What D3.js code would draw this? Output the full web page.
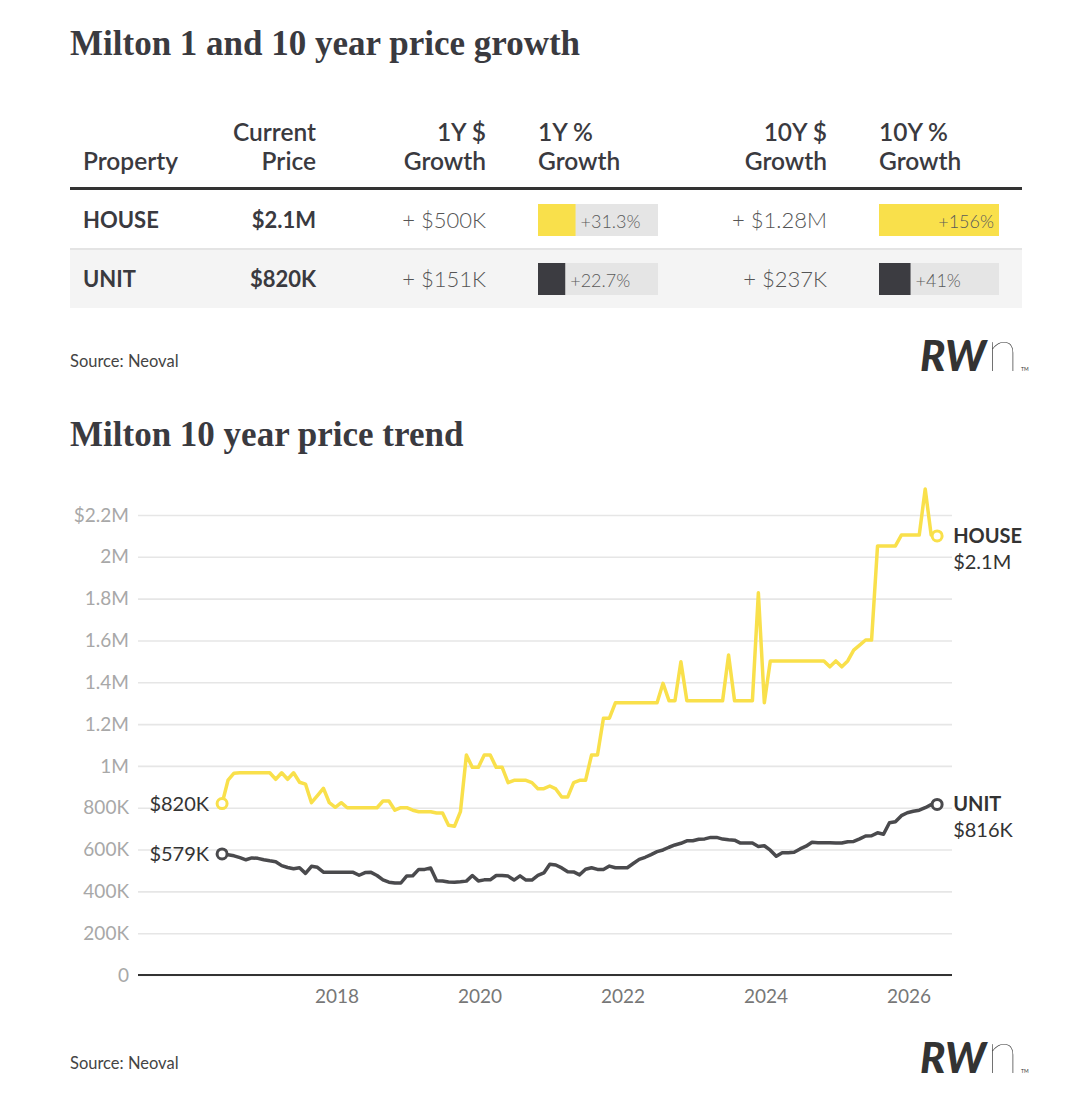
<!DOCTYPE html>
<html>
<head>
<meta charset="utf-8">
<script src="https://cdn.jsdelivr.net/npm/d3@7"></script>
<style>
  body { margin: 0; background: #fff; }
  svg { display: block; font-family: Lato, "Noto Sans", sans-serif; }
</style>
</head>
<body>
<svg></svg>
<script>
const width = 1074;
const height = 1116;

// table data
const properties = ["HOUSE", "UNIT"];
const currentPrice = ["$2.1M", "$820K"];
const growth1yDollar = ["+ $500K", "+ $151K"];
const growth1yPct = [31.3, 22.7];
const growth10yDollar = ["+ $1.28M", "+ $237K"];
const growth10yPct = [156, 41];
const headers = [["", "Property"], ["Current", "Price"], ["1Y $", "Growth"], ["1Y %", "Growth"], ["10Y $", "Growth"], ["10Y %", "Growth"]];

// trend data, monthly, in $K
const startYear = 2016.4;
const houseValues = [
  820, 932, 965, 967, 967, 967, 967, 967, 967, 936, 967, 936,
  967, 922, 913, 824, 858, 893, 824, 802, 824, 800, 800, 800,
  800, 800, 800, 832, 832, 788, 800, 800, 788, 781, 781, 781,
  775, 775, 716, 711, 781, 1052, 993, 993, 1052, 1052, 993, 993,
  920, 931, 931, 931, 920, 891, 891, 904, 890, 851, 851, 920,
  931, 931, 1052, 1052, 1228, 1228, 1302, 1302, 1302, 1302, 1302, 1302,
  1302, 1302, 1395, 1312, 1312, 1498, 1312, 1312, 1312, 1312, 1312, 1312,
  1312, 1530, 1312, 1312, 1312, 1312, 1828, 1302, 1502, 1502, 1502, 1502,
  1502, 1502, 1502, 1502, 1502, 1502, 1474, 1502, 1474, 1502, 1554, 1578,
  1602, 1602, 2052, 2052, 2052, 2052, 2104, 2104, 2104, 2104, 2324, 2104,
  2100
];
const unitValues = [
  579, 575, 570, 561, 551, 560, 558, 551, 546, 542, 523, 514,
  508, 513, 486, 520, 515, 492, 491, 491, 491, 491, 491, 477,
  490, 491, 476, 455, 444, 440, 440, 474, 475, 505, 505, 512,
  451, 450, 445, 444, 446, 449, 476, 450, 455, 455, 476, 476,
  473, 454, 474, 454, 454, 476, 488, 530, 526, 512, 494, 493,
  479, 506, 513, 505, 505, 521, 513, 513, 513, 533, 553, 563,
  576, 590, 598, 611, 622, 630, 642, 642, 649, 651, 658, 658,
  650, 647, 645, 631, 631, 631, 615, 618, 597, 568, 585, 585,
  587, 603, 616, 635, 633, 633, 632, 631, 631, 637, 639, 651,
  665, 666, 680, 673, 728, 733, 762, 776, 783, 788, 800, 815,
  816
];
const yTicks = [0, 200, 400, 600, 800, 1000, 1200, 1400, 1600, 1800, 2000, 2200];
const yTickLabels = ["0", "200K", "400K", "600K", "800K", "1M", "1.2M", "1.4M", "1.6M", "1.8M", "2M", "$2.2M"];
const xTicks = [2018, 2020, 2022, 2024, 2026];

const ink = "#3a3a3f";
const yellow = "#f9e04b";
const dark = "#3c3c41";
const unitLine = "#4a4a4d";

const svg = d3.select("svg")
  .attr("width", width)
  .attr("height", height);

function title(text, y) {
  svg.append("text")
    .attr("x", 70)
    .attr("y", y)
    .attr("font-family", "'Liberation Serif', 'DejaVu Serif', serif")
    .attr("font-weight", 700)
    .attr("font-size", 35)
    .attr("fill", ink)
    .text(text);
}

function source(y) {
  svg.append("text")
    .attr("x", 70)
    .attr("y", y)
    .attr("font-size", 16.5)
    .attr("fill", "#444")
    .text("Source: Neoval");
}

function logo(y) {
  const t = svg.append("text").attr("x", 920).attr("y", y).attr("fill", "#333");
  t.append("tspan")
    .attr("font-size", 42)
    .attr("font-weight", 900)
    .attr("font-style", "italic")
    .text("RW");
  t.append("tspan")
    .attr("dx", 1)
    .attr("font-size", 58)
    .attr("font-weight", 100)
    .text("n");
  svg.append("text")
    .attr("x", 1021)
    .attr("y", y)
    .attr("font-size", 5)
    .attr("fill", "#333")
    .text("TM");
}

// ---------- table ----------
title("Milton 1 and 10 year price growth", 55);

const colX = [83, 316, 486, 538, 827, 879];
const colAnchor = ["start", "end", "end", "start", "end", "start"];

const head = svg.append("g").attr("class", "header");
headers.forEach(function(lines, c) {
  lines.forEach(function(line, k) {
    head.append("text")
      .attr("x", colX[c])
      .attr("y", 141 + k * 28.5)
      .attr("text-anchor", colAnchor[c])
      .attr("font-size", 24.5)
      .attr("font-weight", 600)
      .attr("fill", ink)
      .text(line);
  });
});

svg.append("line")
  .attr("x1", 70).attr("x2", 1022)
  .attr("y1", 188.5).attr("y2", 188.5)
  .attr("stroke", "#333")
  .attr("stroke-width", 3);

const rowTop = d3.scaleBand().domain(properties).range([190, 308]);
const bar1 = d3.scaleLinear().domain([0, 100]).range([0, 120]);
const bar10 = d3.scaleLinear().domain([0, d3.max(growth10yPct)]).range([0, 120]);

const rows = svg.append("g").selectAll("g")
  .data(properties)
  .enter()
  .append("g")
  .attr("transform", d => `translate(0,${rowTop(d)})`);

rows.append("rect")
  .attr("x", 70).attr("width", 952)
  .attr("height", rowTop.bandwidth())
  .attr("fill", (d, i) => i === 1 ? "#f4f4f4" : "#fff");

rows.filter((d, i) => i === 1).append("line")
  .attr("x1", 70).attr("x2", 1022)
  .attr("stroke", "#e4e4e4")
  .attr("stroke-width", 2);

rows.append("text")
  .attr("x", colX[0]).attr("y", 38)
  .attr("font-size", 22).attr("font-weight", 700).attr("fill", ink)
  .text(d => d);

rows.append("text")
  .attr("x", colX[1]).attr("y", 38).attr("text-anchor", "end")
  .attr("font-size", 22).attr("font-weight", 700).attr("fill", ink)
  .text((d, i) => currentPrice[i]);

[[colX[2], growth1yDollar], [colX[4], growth10yDollar]].forEach(function(col) {
  rows.append("text")
    .attr("x", col[0]).attr("y", 38).attr("text-anchor", "end")
    .attr("font-size", 22).attr("font-weight", 300).attr("fill", "#555")
    .text((d, i) => col[1][i]);
});

function pctBars(x0, values, scale) {
  const g = rows.append("g").attr("transform", `translate(${x0},14)`);
  g.append("rect")
    .attr("width", 120).attr("height", 32)
    .attr("fill", "#e5e5e5");
  g.append("rect")
    .attr("width", (d, i) => scale(values[i])).attr("height", 32)
    .attr("fill", (d, i) => i === 0 ? yellow : dark);
  g.append("text")
    .attr("y", 23.5)
    .attr("font-size", 18).attr("font-weight", 300).attr("fill", "#5a5a5a")
    .attr("x", (d, i) => scale(values[i]) > 80 ? 115 : scale(values[i]) + 5)
    .attr("text-anchor", (d, i) => scale(values[i]) > 80 ? "end" : "start")
    .text((d, i) => "+" + values[i] + "%");
}
pctBars(colX[3], growth1yPct, bar1);
pctBars(colX[5], growth10yPct, bar10);

source(367);
logo(371);

// ---------- trend chart ----------
title("Milton 10 year price trend", 446);

const x = d3.scaleLinear().domain([2015.224, 2026.608]).range([138, 952]);
const y = d3.scaleLinear().domain([0, 2200]).range([975, 515]);
const dateOf = i => startYear + i / 12;

const yAxis = svg.append("g")
  .attr("transform", "translate(138,0)")
  .call(d3.axisLeft(y)
    .tickValues(yTicks)
    .tickSize(-814)
    .tickPadding(9)
    .tickFormat((d, i) => yTickLabels[i]));
yAxis.select(".domain").remove();
yAxis.selectAll(".tick line").attr("stroke", "#e6e6e6").attr("stroke-width", 1.6);
yAxis.selectAll(".tick text")
  .attr("font-family", "Lato, sans-serif")
  .attr("font-size", 19)
  .attr("fill", "#a8a8a8");

const xAxis = svg.append("g")
  .attr("transform", "translate(0,975)")
  .call(d3.axisBottom(x)
    .tickValues(xTicks)
    .tickSize(0)
    .tickPadding(15)
    .tickFormat(d3.format("d")));
xAxis.select(".domain").remove();
xAxis.selectAll(".tick text")
  .attr("font-family", "Lato, sans-serif")
  .attr("font-size", 19)
  .attr("fill", "#777");

svg.append("line")
  .attr("x1", 138).attr("x2", 952)
  .attr("y1", y(0)).attr("y2", y(0))
  .attr("stroke", "#333")
  .attr("stroke-width", 2);

const line = d3.line()
  .x((d, i) => x(dateOf(i)))
  .y(d => y(d));

const fmt = v => v >= 1000 ? "$" + (v / 1000) + "M" : "$" + v + "K";

const series = [
  { name: "HOUSE", values: houseValues, color: yellow },
  { name: "UNIT", values: unitValues, color: unitLine }
];

series.forEach(function(s) {
  const first = s.values[0];
  const lastI = s.values.length - 1;
  const last = s.values[lastI];

  svg.append("path")
    .datum(s.values)
    .attr("d", line)
    .attr("fill", "none")
    .attr("stroke", s.color)
    .attr("stroke-width", 3.5)
    .attr("stroke-linejoin", "round");

  [0, lastI].forEach(function(i) {
    svg.append("circle")
      .attr("cx", x(dateOf(i)))
      .attr("cy", y(s.values[i]))
      .attr("r", 5)
      .attr("fill", "#fff")
      .attr("stroke", s.color)
      .attr("stroke-width", 3);
  });

  svg.append("text")
    .attr("x", x(dateOf(0)) - 13)
    .attr("y", y(first))
    .attr("dy", "0.35em")
    .attr("text-anchor", "end")
    .attr("font-size", 20)
    .attr("fill", "#333")
    .text(fmt(first));

  const lx = x(dateOf(lastI)) + 16;
  svg.append("text")
    .attr("x", lx)
    .attr("y", y(last) + 7)
    .attr("font-size", 20)
    .attr("font-weight", 700)
    .attr("fill", "#333")
    .text(s.name);
  svg.append("text")
    .attr("x", lx)
    .attr("y", y(last) + 33)
    .attr("font-size", 20)
    .attr("fill", "#333")
    .text(fmt(last));
});

source(1069);
logo(1073);
</script>
</body>
</html>
